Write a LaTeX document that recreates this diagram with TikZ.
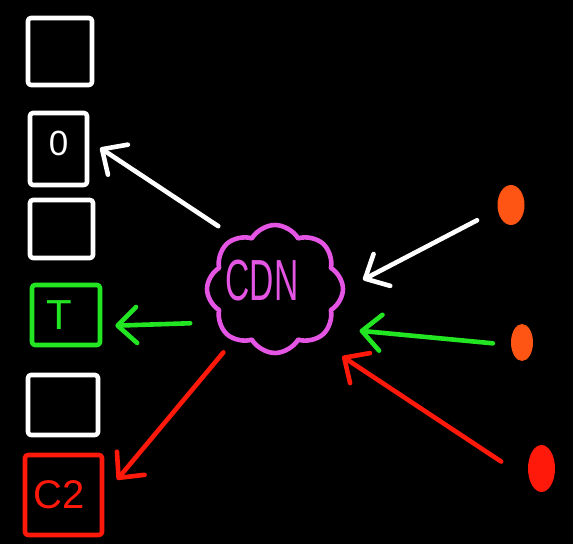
\documentclass[tikz,border=0pt]{standalone}
\usepackage{fontspec}
\newfontfamily\chalkfont{Liberation Sans}
\usetikzlibrary{arrows.meta,positioning,shapes.geometric,shapes.symbols}
\definecolor{chalkgreen}{RGB}{35,230,35}
\definecolor{chalkred}{RGB}{255,25,10}
\definecolor{chalkpink}{RGB}{228,85,228}
\definecolor{chalkorange}{RGB}{255,85,20}

\begin{document}
\begin{tikzpicture}[
    x=0.5pt, y=-0.5pt,
    line width=2.3pt, line cap=round, line join=round,
    >={Straight Barb[length=9.5pt, width=18pt, round]},
    slot/.style={draw, rounded corners=1.5pt, inner sep=0pt, align=center, font=\chalkfont\fontsize{20}{20}\selectfont},
    cdnbox/.style={draw=chalkpink, cloud, cloud puffs=8, cloud puff arc=120, aspect=1.06, minimum width=68pt, minimum height=64pt, inner sep=0pt},
    client/.style={ellipse, inner sep=0pt},
    arrow/.style={->}
]

% ===================== BACKGROUND =====================
\fill[black] (0,0) rectangle (573,544);
\useasboundingbox (0,0) rectangle (573,544);

% ===================== SLOTS =====================
\node[slot, draw=white, minimum width=32pt, minimum height=33.5pt] (slot1) at (60,51.5) {};
\node[slot, draw=white, text=white, minimum width=28.5pt, minimum height=36pt,
      font=\chalkfont\fontsize{17.5}{17.5}\selectfont] (slotO) at (58.5,149) {\raisebox{6pt}{0}};
\node[slot, draw=white, minimum width=31.5pt, minimum height=29pt] (slot3) at (61.5,229) {};
\node[slot, draw=chalkgreen, text=chalkgreen, minimum width=34pt, minimum height=30pt,
      font=\chalkfont\fontsize{21}{21}\selectfont] (slotT) at (66,315) {T\hspace*{7pt}};
\node[slot, draw=white, minimum width=35pt, minimum height=30pt] (slot5) at (63,405) {};
\node[slot, draw=chalkred, text=chalkred, minimum width=38.5pt, minimum height=40pt] (slotC) at (63.5,495) {C2\hspace*{4pt}};

% ===================== CDN =====================
\node[cdnbox] (cdn) at (275,289) {};
\node[text=chalkpink, font=\chalkfont\fontsize{29}{29}\selectfont] (cdnlabel) at (262,281) {\scalebox{0.58}[1]{CDN}};

% ===================== CLIENTS =====================
\node[client, fill=chalkorange, minimum width=13.5pt, minimum height=20pt] (user1) at (511,205) {};
\node[client, fill=chalkorange, minimum width=11pt, minimum height=18.5pt] (user2) at (522,342.5) {};
\node[client, fill=chalkred, minimum width=13.5pt, minimum height=23.5pt] (user3) at (541.5,468.5) {};

% ===================== ARROWS =====================
\draw[arrow, white, shorten <=9.5pt, shorten >=6.5pt] (cdn.128) -- (slotO.15);
\draw[arrow, chalkgreen, shorten <=13.5pt, shorten >=6.5pt] (cdn.210) -- (slotT.-17);
\draw[arrow, chalkred, shorten <=7.5pt, shorten >=10pt] (cdn.231) -- (slotC.east);

\draw[arrow, white, shorten <=10.5pt, shorten >=10pt] (user1.200) -- (cdn.east);
\draw[arrow, chalkgreen, shorten <=8pt, shorten >=14.5pt] (user2.190) -- (cdn.-35);
\draw[arrow, chalkred, shorten <=15.5pt, shorten >=14.5pt] (user3.215) -- (cdn.-50);

\end{tikzpicture}
\end{document}
